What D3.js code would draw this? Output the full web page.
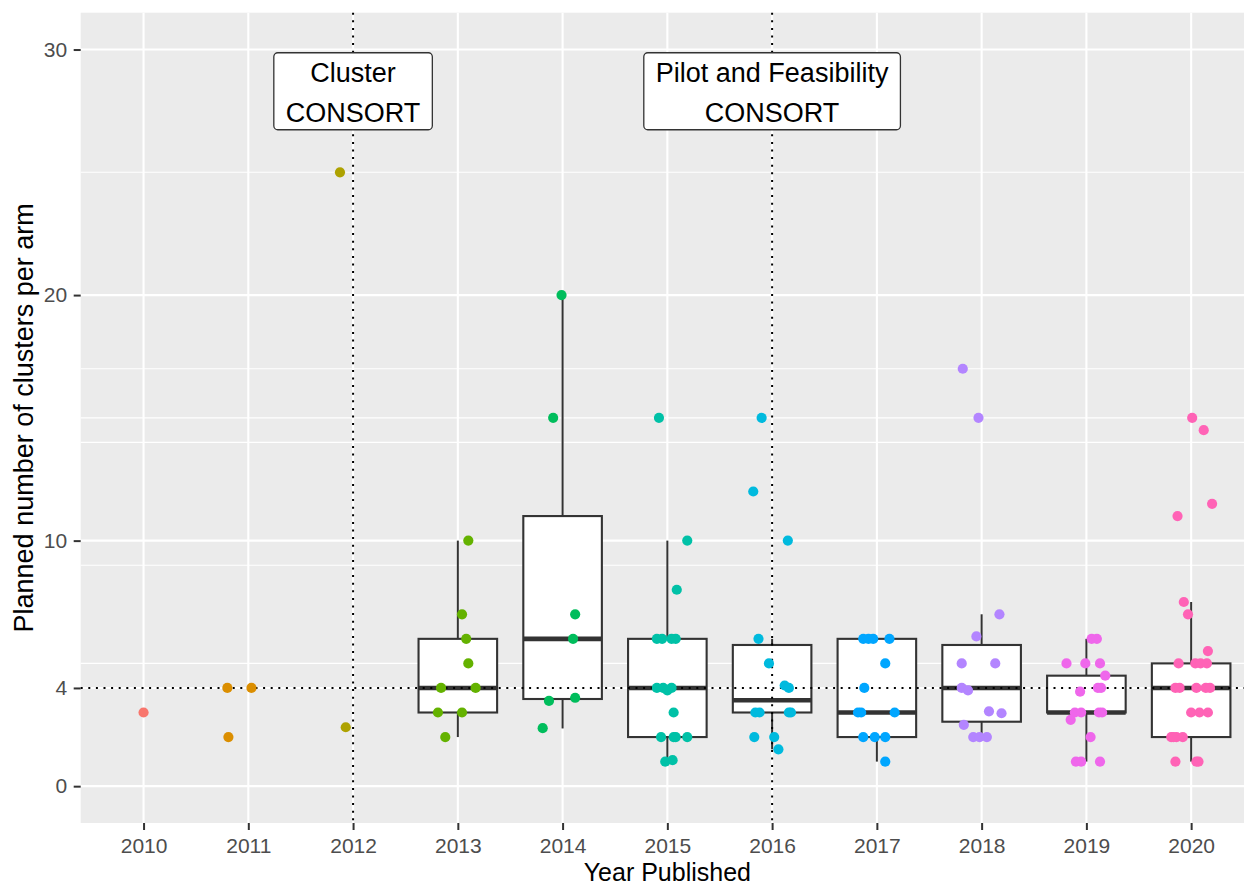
<!DOCTYPE html>
<html>
<head>
<meta charset="utf-8">
<script src="https://cdn.jsdelivr.net/npm/d3@7"></script>
<style>
  html, body { margin: 0; padding: 0; background: #ffffff; }
  svg { display: block; }
  text { font-family: "Liberation Sans", Arial, sans-serif; }
</style>
</head>
<body>
<svg id="chart" width="1244" height="887"></svg>
<script>
// ---- data ----
const years = ["2010","2011","2012","2013","2014","2015","2016","2017","2018","2019","2020"];
const yearColors = ["#F8766D","#DB8E00","#AEA200","#64B200","#00BD5C","#00C1A7",
                    "#00BADE","#00A6FF","#B385FF","#EF67EB","#FF63B6"];

// individual trials: publication year, planned clusters per arm, horizontal jitter (category units)
const pointYears = [
  "2010",
  "2011","2011","2011",
  "2012","2012",
  "2013","2013","2013","2013","2013","2013","2013","2013","2013",
  "2014","2014","2014","2014","2014","2014","2014",
  "2015","2015","2015","2015","2015","2015","2015","2015","2015","2015","2015","2015","2015","2015","2015","2015","2015","2015",
  "2016","2016","2016","2016","2016","2016","2016","2016","2016","2016","2016","2016","2016","2016",
  "2017","2017","2017","2017","2017","2017","2017","2017","2017","2017","2017","2017","2017",
  "2018","2018","2018","2018","2018","2018","2018","2018","2018","2018","2018","2018","2018","2018",
  "2019","2019","2019","2019","2019","2019","2019","2019","2019","2019","2019","2019","2019","2019","2019","2019","2019","2019",
  "2020","2020","2020","2020","2020","2020","2020","2020","2020","2020","2020","2020","2020","2020","2020","2020","2020","2020","2020","2020","2020","2020","2020","2020","2020","2020"
];
const pointValues = [
  3,
  4, 4, 2,
  2.4, 25,
  10, 7, 6, 5, 4, 4, 3, 3, 2,
  7, 6, 3.47, 3.6, 2.36, 15, 20,
  15, 10, 8, 6, 6, 6, 6, 4, 4, 3.9, 4, 3, 2, 2, 2, 2, 1, 1.06,
  15, 12, 10, 6, 5, 4.1, 4, 3, 3, 3, 3, 2, 2, 1.5,
  6, 6, 6, 6, 5, 4, 3, 3, 3, 2, 2, 2, 1,
  17, 15, 7, 6.1, 5, 5, 4, 3.9, 3.05, 2.97, 2.5, 2, 2, 2,
  6, 6, 5, 5, 5, 4.5, 3.85, 4, 4, 3, 3, 3, 3, 2.7, 2, 1, 1, 1,
  15, 14.5, 11.5, 11, 7.5, 7, 5.5, 5, 5, 5, 5, 4, 4, 4, 4, 4, 3, 3, 3, 2, 2, 2, 2, 1, 1, 1
];
const jitterOffsets = [
  0.00,
  -0.20, 0.03, -0.19,
  -0.07, -0.125,
  0.10, 0.04, 0.08, 0.10, -0.16, 0.17, -0.19, 0.04, -0.12,
  0.12, 0.10, -0.13, 0.12, -0.19, -0.09, -0.01,
  -0.08, 0.19, 0.09, -0.10, -0.05, 0.04, 0.08, -0.10, -0.04, 0.00, 0.04, 0.06, -0.06, 0.06, 0.19, 0.08, -0.02, 0.05,
  -0.10, -0.18, 0.15, -0.13, -0.03, 0.12, 0.16, -0.16, -0.12, 0.16, 0.18, -0.17, 0.02, 0.06,
  -0.13, -0.08, -0.035, 0.12, 0.08, -0.12, -0.18, -0.15, 0.17, -0.13, -0.02, 0.08, 0.08,
  -0.18, -0.03, 0.17, -0.05, -0.19, 0.13, -0.19, -0.13, 0.07, 0.19, -0.17, -0.08, -0.02, 0.05,
  0.05, 0.10, -0.19, -0.01, 0.13, 0.18, -0.06, 0.11, 0.14, -0.11, -0.05, 0.12, 0.15, -0.15, 0.04, -0.10, -0.05, 0.13,
  0.01, 0.12, 0.20, -0.13, -0.07, -0.03, 0.16, -0.12, 0.04, 0.09, 0.15, -0.15, -0.11, 0.05, 0.14, 0.18, 0.00, 0.08, 0.16, -0.19, -0.14, -0.08, -0.17, -0.15, 0.05, 0.07
];

// box-plot summaries per year (whiskers, quartiles, median)
const boxYears    = ["2013","2014","2015","2016","2017","2018","2019","2020"];
const whiskerLow  = [2,    2.35, 1,  1.5,  1, 2,     1,   1];
const quartile1   = [3,    3.55, 2,  3,    2, 2.625, 3,   2];
const medians     = [4,    6,    4,  3.5,  3, 4,     3,   4];
const quartile3   = [6,    11,   6,  5.75, 6, 5.75,  4.5, 5];
const whiskerHigh = [10,   20,   10, 6,    6, 7,     6,   7.5];

// reference lines and their annotations
const guideYears  = ["2012","2016"];
const guideValue  = 4;
const labelLines  = [["Cluster","CONSORT"],["Pilot and Feasibility","CONSORT"]];
const labelValue  = 28.3;

// axis breaks
const yMajorTicks = [0, 4, 10, 20, 30];
const yMinorGrid  = [5, 9, 14, 15, 17, 25];

// ---- layout ----
const W = 1244, H = 887;
const panel = { left: 80.7, right: 1254, top: 12.7, bottom: 823 };

const svg = d3.select("#chart").attr("viewBox", `0 0 ${W} ${H}`);

const x = d3.scalePoint().domain(years).range([panel.left, panel.right]).padding(0.6);
const y = d3.scaleLinear().domain([-1.5, 31.5]).range([panel.bottom, panel.top]);
const step = x.step();
const color = d3.scaleOrdinal().domain(years).range(yearColors);

// panel background
svg.append("rect")
  .attr("x", panel.left).attr("y", panel.top)
  .attr("width", panel.right - panel.left).attr("height", panel.bottom - panel.top)
  .attr("fill", "#EBEBEB");

const grid = svg.append("g");
grid.selectAll("line.minor").data(yMinorGrid).join("line")
  .attr("class", "minor")
  .attr("x1", panel.left).attr("x2", panel.right)
  .attr("y1", d => y(d)).attr("y2", d => y(d))
  .attr("stroke", "#ffffff").attr("stroke-width", 1.1);
grid.selectAll("line.major").data(yMajorTicks).join("line")
  .attr("class", "major")
  .attr("x1", panel.left).attr("x2", panel.right)
  .attr("y1", d => y(d)).attr("y2", d => y(d))
  .attr("stroke", "#ffffff").attr("stroke-width", 2.1);
grid.selectAll("line.vert").data(years).join("line")
  .attr("class", "vert")
  .attr("x1", d => x(d)).attr("x2", d => x(d))
  .attr("y1", panel.top).attr("y2", panel.bottom)
  .attr("stroke", "#ffffff").attr("stroke-width", 2.1);

// box plots
const boxes = boxYears.map((yr, i) => ({
  year: yr, lo: whiskerLow[i], q1: quartile1[i], med: medians[i], q3: quartile3[i], hi: whiskerHigh[i]
}));
const bw = step * 0.75;
const boxG = svg.append("g").selectAll("g").data(boxes).join("g");
boxG.append("line")
  .attr("x1", d => x(d.year)).attr("x2", d => x(d.year))
  .attr("y1", d => y(d.q3)).attr("y2", d => y(d.hi))
  .attr("stroke", "#333333").attr("stroke-width", 2);
boxG.append("line")
  .attr("x1", d => x(d.year)).attr("x2", d => x(d.year))
  .attr("y1", d => y(d.q1)).attr("y2", d => y(d.lo))
  .attr("stroke", "#333333").attr("stroke-width", 2);
boxG.append("rect")
  .attr("x", d => x(d.year) - bw / 2).attr("width", bw)
  .attr("y", d => y(d.q3)).attr("height", d => y(d.q1) - y(d.q3))
  .attr("fill", "#ffffff").attr("stroke", "#333333").attr("stroke-width", 2.1);
boxG.append("line")
  .attr("x1", d => x(d.year) - bw / 2).attr("x2", d => x(d.year) + bw / 2)
  .attr("y1", d => y(d.med)).attr("y2", d => y(d.med))
  .attr("stroke", "#333333").attr("stroke-width", 4.6);

// dotted reference lines
const dotted = { stroke: "#000000", width: 2, dash: "2,5.6" };
svg.append("g").selectAll("line").data(guideYears).join("line")
  .attr("x1", d => x(d)).attr("x2", d => x(d))
  .attr("y1", panel.top).attr("y2", panel.bottom)
  .attr("stroke", dotted.stroke).attr("stroke-width", dotted.width)
  .attr("stroke-dasharray", dotted.dash);
svg.append("line")
  .attr("x1", panel.left).attr("x2", panel.right)
  .attr("y1", y(guideValue)).attr("y2", y(guideValue))
  .attr("stroke", dotted.stroke).attr("stroke-width", dotted.width)
  .attr("stroke-dasharray", dotted.dash);

// jittered trial points
const points = pointYears.map((yr, i) => ({ year: yr, value: pointValues[i], jit: jitterOffsets[i] }));
svg.append("g").selectAll("circle").data(points).join("circle")
  .attr("cx", d => x(d.year) + d.jit * step)
  .attr("cy", d => y(d.value))
  .attr("r", 5.1)
  .attr("fill", d => color(d.year));

// annotation labels
const lineGap = 40, labelFont = 27, padX = 12, padTop = 38.5;
guideYears.forEach((yr, i) => {
  const g = svg.append("g");
  const cx = x(yr), cy = y(labelValue);
  const rect = g.append("rect");
  const texts = g.selectAll("text").data(labelLines[i]).join("text")
    .attr("x", cx)
    .attr("y", (d, j) => cy + (j - 0.5) * lineGap + 10.3)
    .attr("text-anchor", "middle")
    .attr("font-size", labelFont)
    .attr("fill", "#000000")
    .text(d => d);
  const wMax = d3.max(texts.nodes(), n => n.getComputedTextLength());
  rect.attr("x", cx - wMax / 2 - padX).attr("width", wMax + 2 * padX)
    .attr("y", cy - padTop).attr("height", 2 * padTop)
    .attr("rx", 4).attr("ry", 4)
    .attr("fill", "#ffffff").attr("stroke", "#333333").attr("stroke-width", 1.3);
});

// axes
const yAxis = svg.append("g")
  .attr("transform", `translate(${panel.left},0)`)
  .call(d3.axisLeft(y).tickValues(yMajorTicks).tickSize(7).tickPadding(6.5).tickFormat(d3.format("d")));
const xAxis = svg.append("g")
  .attr("transform", `translate(0,${panel.bottom})`)
  .call(d3.axisBottom(x).tickSize(7).tickPadding(8));
[yAxis, xAxis].forEach(ax => {
  ax.select(".domain").remove();
  ax.selectAll(".tick line").attr("stroke", "#333333").attr("stroke-width", 2);
  ax.selectAll(".tick text").attr("fill", "#4D4D4D").attr("font-size", 21)
    .attr("font-family", "'Liberation Sans', Arial, sans-serif");
});

// axis titles
svg.append("text")
  .attr("x", (panel.left + panel.right) / 2).attr("y", 881)
  .attr("text-anchor", "middle").attr("font-size", 25).attr("fill", "#000000")
  .text("Year Published");
svg.append("text")
  .attr("transform", `translate(33,${(panel.top + panel.bottom) / 2}) rotate(-90)`)
  .attr("text-anchor", "middle").attr("font-size", 27).attr("fill", "#000000")
  .text("Planned number of clusters per arm");
</script>
</body>
</html>
